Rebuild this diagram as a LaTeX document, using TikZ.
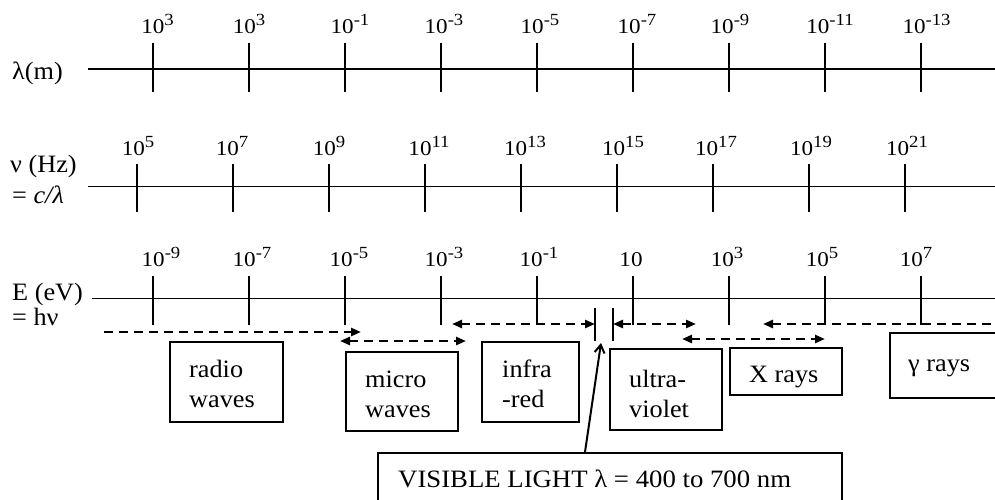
\documentclass[tikz,border=0pt]{standalone}
\usepackage{fontspec}
\setmainfont{Liberation Serif}
\usetikzlibrary{arrows.meta}
\newcommand\myexp[1]{\raisebox{8pt}{\fontsize{17}{17}\selectfont #1}}
\newcommand\hsc[1]{\scalebox{1.05}[1]{#1}}
\newcommand\hst[1]{\scalebox{1.1}[1]{#1}}
\newcommand\twol[2]{\hsc{\begin{tabular}[t]{@{}l@{}}#1\\#2\end{tabular}}}
\begin{document}
\begin{tikzpicture}[x=1pt,y=-1pt,
  axis/.style={line width=1.9pt},
  tk/.style={line width=2pt},
  lab/.style={anchor=base, inner sep=0pt, font=\fontsize{21}{21}\selectfont},
  lname/.style={anchor=base west, inner sep=0pt, font=\fontsize{25}{25}\selectfont},
  bandbox/.style={draw, line width=1.9pt, anchor=north west, inner sep=0pt},
  bandtext/.style={anchor=base west, inner sep=0pt, font=\fontsize{25}{30}\selectfont},
  rng/.style={line width=2.5pt, dash pattern=on 9pt off 6pt},
  tipR/.style={-{Triangle[length=10pt,width=8pt]}},
  tipL/.style={{Triangle[length=10pt,width=8pt]}-},
  tipLR/.style={{Triangle[length=10pt,width=8pt]}-{Triangle[length=10pt,width=8pt]}},
  bar/.style={line width=2pt}
]
\useasboundingbox[fill=white] (0,0) rectangle (995,499);

% axis names
\node[lname] (nl) at (12,79) {\hsc{λ(m)}};
\node[lname] (nn) at (10,172) {\hsc{ν (Hz)}};
\node[lname] (nc) at (12,203) {\hsc{= \textit{c/λ}}};
\node[lname] (ne) at (12,300) {\hsc{E (eV)}};
\node[lname] (nh) at (12,325) {\hsc{= hν}};

% axes
\coordinate (a1s) at (88,69);  \coordinate (a1e) at (1000,69);
\coordinate (a2s) at (88,186.5); \coordinate (a2e) at (1000,186.5);
\coordinate (a3s) at (92,298.5); \coordinate (a3e) at (1000,298.5);
\draw[axis] (a1s) -- (a1e);
\draw[axis] (a2s) -- (a2e);
\draw[axis] (a3s) -- (a3e);

% ticks
\foreach \x in {153,249,...,921} \draw[tk] (\x,43) -- (\x,92);
\foreach \x in {137,233,...,905} \draw[tk] (\x,164) -- (\x,212);
\foreach \x in {153,249,...,921} \draw[tk] (\x,276) -- (\x,325);

% tick labels
\foreach \x/\t [count=\i] in {157.5/{10\myexp{3}},249/{10\myexp{3}},350/{10\myexp{-1}},444/{10\myexp{-3}},540/{10\myexp{-5}},637/{10\myexp{-7}},730/{10\myexp{-9}},830/{10\myexp{-11}},926.5/{10\myexp{-13}}}
  \node[lab] (w\i) at (\x,33) {\hst{\t}};
\foreach \x/\t [count=\i] in {138/{10\myexp{5}},232/{10\myexp{7}},329/{10\myexp{9}},429/{10\myexp{11}},525/{10\myexp{13}},623/{10\myexp{15}},716/{10\myexp{17}},811/{10\myexp{19}},907/{10\myexp{21}}}
  \node[lab] (f\i) at (\x,155) {\hst{\t}};
\foreach \x/\t [count=\i] in {161/{10\myexp{-9}},252/{10\myexp{-7}},349/{10\myexp{-5}},444/{10\myexp{-3}},539/{10\myexp{-1}},631/{10},727/{10\myexp{3}},822/{10\myexp{5}},916/{10\myexp{7}}}
  \node[lab] (e\i) at (\x,266) {\hst{\t}};

% band boxes
\node[bandbox, minimum width=113pt, minimum height=80pt] (radio) at (169,341) {};
\node[bandbox, minimum width=112pt, minimum height=79pt] (micro) at (345,351) {};
\node[bandbox, minimum width=97pt,  minimum height=80pt] (infra) at (481,341) {};
\node[bandbox, minimum width=112pt, minimum height=81pt] (uv) at (609,348) {};
\node[bandbox, minimum width=112pt, minimum height=47pt] (xray) at (729,347) {};
\node[bandbox, minimum width=130pt, minimum height=65pt] (gamma) at (889,332) {};
\node[bandbox, minimum width=464pt, minimum height=52pt] (vis) at (377,452) {};

% band texts
\node[bandtext] (radiot) at (189,377) {\twol{radio}{waves}};
\node[bandtext] (microt) at (365,387) {\twol{micro}{waves}};
\node[bandtext] (infrat) at (502,377) {\twol{infra}{-red}};
\node[bandtext] (uvt) at (629,387) {\twol{ultra-}{violet}};
\node[bandtext] (xrayt) at (749,382) {\hsc{X rays}};
\node[bandtext] (gammat) at (908,371) {\hsc{γ rays}};
\node[bandtext] (vist) at (398,487) {\scalebox{1.07}[1]{VISIBLE LIGHT λ = 400 to 700 nm}};

% range arrows
\coordinate (r1a) at (104,332); \coordinate (r1b) at (361,332);
\coordinate (r2a) at (340,341); \coordinate (r2b) at (466,341);
\coordinate (r3a) at (452,324); \coordinate (r3b) at (595,324);
\coordinate (r4a) at (613,324); \coordinate (r4b) at (696,324);
\coordinate (r5a) at (682,339); \coordinate (r5b) at (825,339);
\coordinate (r6a) at (763,324); \coordinate (r6b) at (1000,324);
\draw[rng,tipR] (r1a) -- (r1b);
\draw[rng,tipLR] (r2a) -- (r2b);
\draw[rng,tipLR] (r3a) -- (r3b);
\draw[rng,tipLR] (r4a) -- (r4b);
\draw[rng,tipLR] (r5a) -- (r5b);
\draw[rng,tipL] (r6a) -- (r6b);

% visible limits
\coordinate (v1t) at (595,308); \coordinate (v1b) at (595,341);
\coordinate (v2t) at (613,308); \coordinate (v2b) at (613,341);
\draw[bar] (v1t) -- (v1b);
\draw[bar] (v2t) -- (v2b);

% pointer
\coordinate (vbase) at (585,452); \coordinate (vtip) at (601,343);
\draw[line width=2pt,-{Straight Barb[length=8pt,width=10pt]}] (vbase) -- (vtip);
\end{tikzpicture}
\end{document}
